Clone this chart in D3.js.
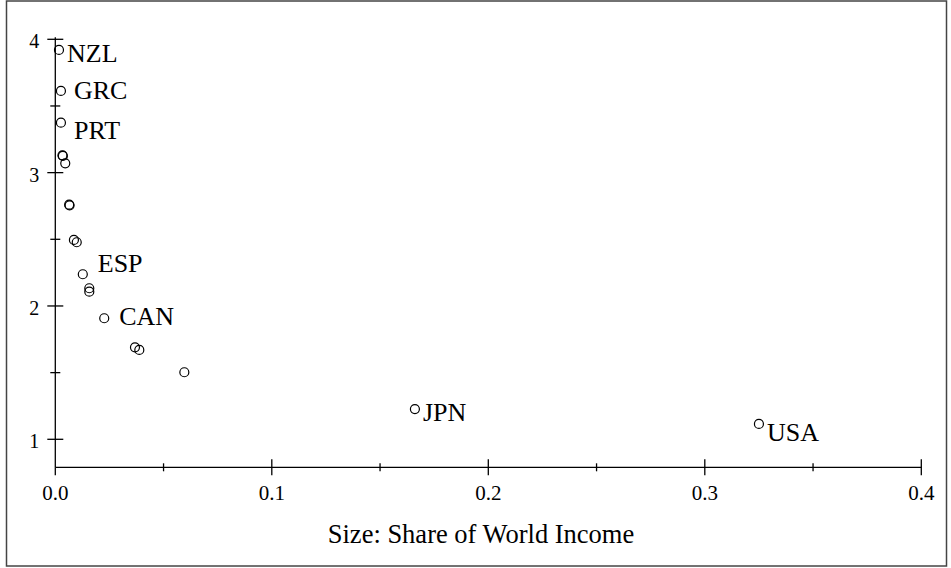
<!DOCTYPE html>
<html>
<head>
<meta charset="utf-8">
<script src="https://cdn.jsdelivr.net/npm/d3@7"></script>
<style>
  body { margin: 0; background: #fff; }
</style>
</head>
<body>
<svg id="chart"></svg>
<script>
const svgWidth = 951;
const svgHeight = 568;
const fontFamily = "'Liberation Serif', 'DejaVu Serif', 'Times New Roman', Times, serif";

// share of world income (x) vs value (y), one entry per country
let shares = [0.0017, 0.0026, 0.0026, 0.0033, 0.0035, 0.0046, 0.0064, 0.0066, 0.0086, 0.0099,
              0.0127, 0.0157, 0.0157, 0.0226, 0.0368, 0.0388, 0.0596, 0.1661, 0.325];
let values = [3.92, 3.613, 3.375, 3.13, 3.125, 3.07, 2.76, 2.755, 2.495, 2.478,
              2.238, 2.133, 2.107, 1.908, 1.69, 1.67, 1.503, 1.227, 1.115];
let countries = ["NZL", "GRC", "PRT", "", "", "", "", "", "", "",
                 "ESP", "", "", "CAN", "", "", "", "JPN", "USA"];

let xTicks = [0, 0.1, 0.2, 0.3, 0.4];
let xMinor = [0.05, 0.15, 0.25, 0.35];
let yTicks = [1, 2, 3, 4];
let yMinor = [1.5, 2.5, 3.5];
const xTitle = "Size: Share of World Income";

// where each label sits relative to its marker
const labelOffset = {
  NZL: [8, 12], GRC: [13, 8], PRT: [13, 16], ESP: [15, -2],
  CAN: [15, 7], JPN: [8, 12], USA: [8, 17]
};

const x = d3.scaleLinear().domain([0, 0.4]).range([55.3, 921.3]);
const y = d3.scaleLinear().domain([1, 4]).range([439.3, 39.3]);
const axisY = y(0.79);

let svg = d3.select('#chart')
  .attr('width', svgWidth)
  .attr('height', svgHeight);

// outer frame
svg.append('rect')
  .attr('x', 6.5).attr('y', 1)
  .attr('width', 940).attr('height', 565)
  .attr('fill', 'none')
  .attr('stroke', '#444')
  .attr('stroke-width', 1.5);

let g = svg.append('g').attr('stroke', '#000').attr('stroke-width', 1.3);

// y axis
g.append('line')
  .attr('x1', x(0)).attr('x2', x(0))
  .attr('y1', y(4.015)).attr('y2', axisY);
g.selectAll('.ymaj').data(yTicks).enter().append('line')
  .attr('x1', x(0) - 8).attr('x2', x(0) + 8)
  .attr('y1', d => y(d)).attr('y2', d => y(d));
g.selectAll('.ymin').data(yMinor).enter().append('line')
  .attr('x1', x(0) - 5).attr('x2', x(0) + 5)
  .attr('y1', d => y(d)).attr('y2', d => y(d));

// x axis
g.append('line')
  .attr('x1', x(0)).attr('x2', x(0.4))
  .attr('y1', axisY).attr('y2', axisY);
g.selectAll('.xmaj').data(xTicks).enter().append('line')
  .attr('x1', d => x(d)).attr('x2', d => x(d))
  .attr('y1', d => d === 0 ? axisY : axisY - 8).attr('y2', axisY + 8);
g.selectAll('.xmin').data(xMinor).enter().append('line')
  .attr('x1', d => x(d)).attr('x2', d => x(d))
  .attr('y1', axisY - 4).attr('y2', axisY + 4);

svg.selectAll('.ylab').data(yTicks).enter().append('text')
  .attr('x', x(0) - 16)
  .attr('y', d => y(d) + 9)
  .attr('text-anchor', 'end')
  .attr('font-family', fontFamily)
  .attr('font-size', 20)
  .text(d => d);

svg.selectAll('.xlab').data(xTicks).enter().append('text')
  .attr('x', d => x(d))
  .attr('y', 500)
  .attr('text-anchor', 'middle')
  .attr('font-family', fontFamily)
  .attr('font-size', 21)
  .text(d => d3.format('.1f')(d));

svg.append('text')
  .attr('x', 481)
  .attr('y', 543)
  .attr('text-anchor', 'middle')
  .attr('font-family', fontFamily)
  .attr('font-size', 26.5)
  .text(xTitle);

// markers
let pts = d3.range(shares.length);
svg.selectAll('.pt').data(pts).enter().append('circle')
  .attr('cx', i => x(shares[i]))
  .attr('cy', i => y(values[i]))
  .attr('r', 4.5)
  .attr('fill', 'none')
  .attr('stroke', '#000')
  .attr('stroke-width', 1.2);

svg.selectAll('.lbl').data(pts.filter(i => countries[i] !== '')).enter().append('text')
  .attr('x', i => x(shares[i]) + labelOffset[countries[i]][0])
  .attr('y', i => y(values[i]) + labelOffset[countries[i]][1])
  .attr('font-family', fontFamily)
  .attr('font-size', 26)
  .text(i => countries[i]);
</script>
</body>
</html>
